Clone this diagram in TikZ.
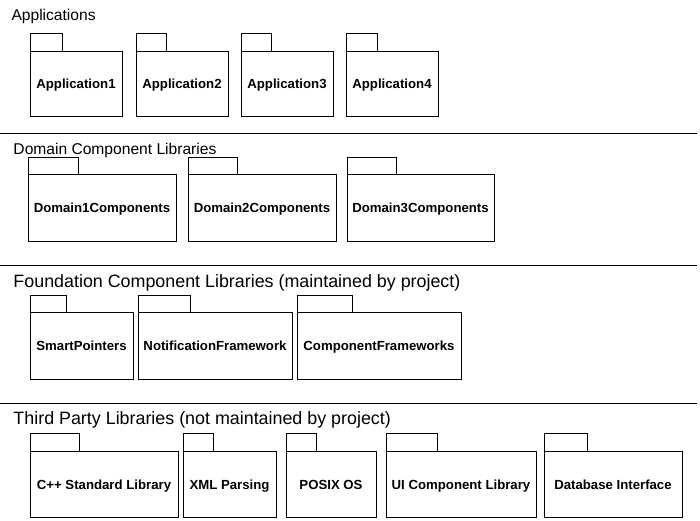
\documentclass[tikz,border=0pt]{standalone}
\usepackage{fontspec}
\setmainfont{Liberation Sans}
\begin{document}
\begin{tikzpicture}[x=0.75pt, y=-0.75pt, line width=0.75pt, line join=miter,
    pkgbody/.style={draw, rectangle, anchor=north west, inner sep=0pt, outer sep=0pt,
      text height=7.8pt, text depth=0pt, font=\fontsize{9.9}{12}\selectfont\bfseries},
    smalltitle/.style={anchor=base west, inner sep=0pt, font=\fontsize{11.7}{14}\selectfont},
    bigtitle/.style={anchor=base west, inner sep=0pt, font=\fontsize{13.4}{16}\selectfont}]

    \useasboundingbox (0,0) rectangle (700,521);

    % Separateurs entre les couches
    \draw (0,133) -- (697,133);
    \draw (0,265) -- (697,265);
    \draw (0,403) -- (697,403);

    % Titres des couches
    \node[smalltitle] (tApp) at (11,21) {Applications};
    \node[smalltitle] (tDom) at (13,154.5) {Domain Component Libraries};
    \node[bigtitle] (tFnd) at (13,287) {Foundation Component Libraries (maintained by project)};
    \node[bigtitle] (tTp) at (13,424) {Third Party Libraries (not maintained by project)};

    % Paquetages : n/gauche/droite/onglet/texte
    \foreach \n/\xa/\xb/\tw/\lbl in {1/30/122/32/Application1, 2/136/228/30/Application2,
        3/241/333/30/Application3, 4/346/438/31/Application4} {
        \pgfmathsetmacro{\w}{(\xb-\xa)*0.75}
        \node[pkgbody, minimum width=\w pt, minimum height=48.75pt] (app\n) at (\xa,51) {\lbl};
        \draw (app\n.north west) rectangle ++(\tw,-18);
    }
    \foreach \n/\xa/\xb/\tw/\lbl in {1/28/176/50/Domain1Components, 2/188/336/49/Domain2Components,
        3/347/494/49/Domain3Components} {
        \pgfmathsetmacro{\w}{(\xb-\xa)*0.75}
        \node[pkgbody, minimum width=\w pt, minimum height=50.25pt] (dom\n) at (\xa,174) {\lbl};
        \draw (dom\n.north west) rectangle ++(\tw,-17);
    }
    \foreach \n/\xa/\xb/\tw/\lbl in {1/30/133/36/SmartPointers, 2/138/292/52/NotificationFramework,
        3/297/461/55/ComponentFrameworks} {
        \pgfmathsetmacro{\w}{(\xb-\xa)*0.75}
        \node[pkgbody, minimum width=\w pt, minimum height=50.25pt] (fnd\n) at (\xa,312) {\lbl};
        \draw (fnd\n.north west) rectangle ++(\tw,-17);
    }
    \foreach \n/\xa/\xb/\tw/\lbl in {1/30/178/49/C++ Standard Library, 2/183/276/30/XML Parsing,
        3/286/376/30/POSIX OS, 4/386/536/51/UI Component Library, 5/544/682/43/Database Interface} {
        \pgfmathsetmacro{\w}{(\xb-\xa)*0.75}
        \node[pkgbody, minimum width=\w pt, minimum height=49.5pt] (tp\n) at (\xa,451) {\lbl};
        \draw (tp\n.north west) rectangle ++(\tw,-18);
    }

\end{tikzpicture}
\end{document}
